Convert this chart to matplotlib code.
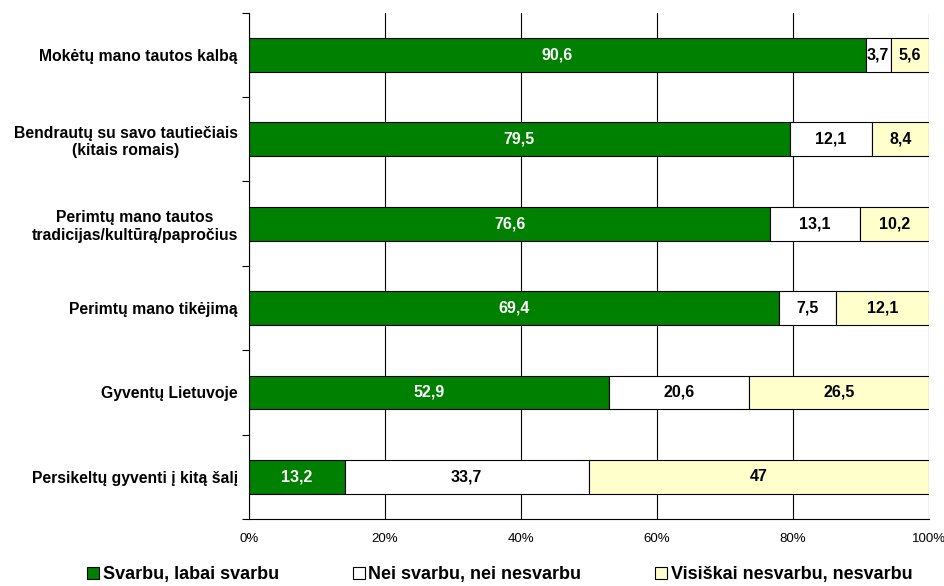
import matplotlib
matplotlib.use('Agg')
from matplotlib import pyplot as plt
from matplotlib.patches import Patch
import numpy as np

plt.rcParams['font.family'] = ['Liberation Sans', 'DejaVu Sans']

categories = ['Mokėtų mano tautos kalbą',
              'Bendrautų su savo tautiečiais\n(kitais romais)',
              'Perimtų mano tautos\ntradicijas/kultūrą/papročius',
              'Perimtų mano tikėjimą',
              'Gyventų Lietuvoje',
              'Persikeltų gyventi į kitą šalį']
svarbu = [90.6, 79.5, 76.6, 69.4, 52.9, 13.2]
nei = [3.7, 12.1, 13.1, 7.5, 20.6, 33.7]
nesvarbu = [5.6, 8.4, 10.2, 12.1, 26.5, 47]
series_names = ['Svarbu, labai svarbu', 'Nei svarbu, nei nesvarbu', 'Visiškai nesvarbu, nesvarbu']

colors = ['#008000', '#ffffff', '#ffffcc']
text_colors = ['white', 'black', 'black']

data = np.array([svarbu, nei, nesvarbu])
totals = data.sum(axis=0)
shares = data / totals * 100

fig = plt.figure(figsize=(9.45, 5.86), dpi=100)
ax = fig.add_axes([0.2635, 0.1143, 0.7195, 0.864])

y = np.arange(len(categories))
left = np.zeros(len(categories))
for i in range(3):
    ax.barh(y, shares[i], left=left, height=0.4, color=colors[i],
            edgecolor='black', linewidth=0.8, zorder=3)
    for j in range(len(categories)):
        ax.text(left[j] + shares[i][j] / 2, y[j], ('%g' % data[i][j]).replace('.', ','),
                ha='center', va='center', color=text_colors[i],
                fontsize=11.5, fontweight='bold', zorder=4)
    left += shares[i]

ax.set_xlim(0, 100)
ax.set_ylim(len(categories) - 0.5, -0.5)
ax.set_xticks(range(0, 101, 20))
ax.set_xticklabels(['%d%%' % v for v in range(0, 101, 20)], fontsize=9.5)
ax.xaxis.grid(True, color='black', linewidth=0.8, zorder=0)
ax.set_yticks(y)
ax.set_yticklabels(categories, fontsize=11.3, fontweight='bold', ha='right', multialignment='center')
ax.tick_params(axis='y', length=0, pad=8)
ax.set_yticks(np.arange(-0.5, len(categories)), minor=True)
ax.tick_params(axis='y', which='minor', length=5, width=0.8)
ax.tick_params(axis='x', length=0, pad=10)
for s in ['top', 'right']:
    ax.spines[s].set_visible(False)
ax.spines['left'].set_linewidth(0.8)
ax.spines['bottom'].set_linewidth(0.8)

handles = [Patch(facecolor=c, edgecolor='black', linewidth=0.8) for c in colors]
fig.legend(handles, series_names, loc='center', bbox_to_anchor=(0.529, 0.019), ncol=3,
           frameon=False, prop={'size': 13, 'weight': 'bold'},
           handlelength=0.65, handleheight=0.65, handletextpad=0.2, columnspacing=4.1,
           borderpad=0)

plt.savefig('out.png', dpi=100)
